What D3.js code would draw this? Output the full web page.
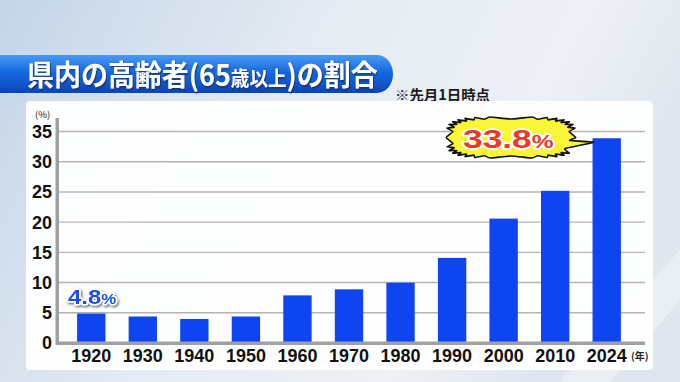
<!DOCTYPE html>
<html><head><meta charset="utf-8">
<script src="https://cdn.jsdelivr.net/npm/d3@7"></script>
<style>html,body{margin:0;padding:0;overflow:hidden;background:#dfe7ef}</style>
</head><body>
<svg id="c" width="680" height="382"></svg>
<script>
const years = ["1920","1930","1940","1950","1960","1970","1980","1990","2000","2010","2024"];
const values = [4.8, 4.3, 3.9, 4.3, 7.8, 8.8, 9.9, 14.0, 20.5, 25.1, 33.8];
const yTicks = [0, 5, 10, 15, 20, 25, 30, 35];
const titleText = ["県内の高齢者(65", "歳以上", ")の割合"];
const noteText = "※先月1日時点";
const firstLabel = "4.8";
const lastLabel = "33.8";

const svg = d3.select("#c");
const defs = svg.append("defs");
const bg = defs.append("linearGradient").attr("id","bg").attr("x1","0").attr("y1","0").attr("x2","1").attr("y2","0.3");
bg.append("stop").attr("offset","0").attr("stop-color","#c4d5e8");
bg.append("stop").attr("offset","0.45").attr("stop-color","#e4ebf2");
bg.append("stop").attr("offset","0.8").attr("stop-color","#edf1f5");
bg.append("stop").attr("offset","1").attr("stop-color","#dfe6ee");
const tb = defs.append("linearGradient").attr("id","tb").attr("x1","0").attr("y1","0").attr("x2","0").attr("y2","1");
tb.append("stop").attr("offset","0").attr("stop-color","#4a9af2");
tb.append("stop").attr("offset","0.45").attr("stop-color","#1668e0");
tb.append("stop").attr("offset","1").attr("stop-color","#0a45b8");
const sh = defs.append("filter").attr("id","sh").attr("x","-10%").attr("y","-20%").attr("width","130%").attr("height","150%");
sh.append("feDropShadow").attr("dx",1).attr("dy",1.5).attr("stdDeviation",0.8).attr("flood-color","#1a2030").attr("flood-opacity",0.7);

svg.append("rect").attr("width",680).attr("height",382).attr("fill","url(#bg)");
svg.append("path").attr("d","M560,382 L680,250 L680,300 L610,382 Z").attr("fill","#ffffff").attr("opacity",0.35);

// title banner
svg.append("path").attr("d","M0,55 H377 A16,19 0 0 1 393,74 A16,19 0 0 1 377,93 H0 Z").attr("fill","url(#tb)");
const tt = svg.append("text").attr("transform","translate(27,85.5) scale(0.93,1)").attr("fill","#fff")
  .attr("font-family","'Noto Sans CJK JP'").attr("font-weight",700).attr("font-size",29)
  .attr("filter","url(#sh)");
tt.append("tspan").text(titleText[0]);
tt.append("tspan").attr("font-size",20).text(titleText[1]);
tt.append("tspan").text(titleText[2]);
svg.append("text").attr("x",395).attr("y",100).attr("fill","#1a1a1a")
  .attr("font-family","'Noto Sans CJK JP'").attr("font-weight",700).attr("font-size",14)
  .attr("textLength",95).attr("lengthAdjust","spacingAndGlyphs").text(noteText);

// panel
svg.append("rect").attr("x",26).attr("y",101).attr("width",627).attr("height",269).attr("rx",4)
  .attr("fill","#ffffff").attr("opacity",0.93);

const x = d3.scaleBand().domain(years).range([57, 641]).paddingInner(0.45).paddingOuter(0.39);
const y = d3.scaleLinear().domain([0, 35]).range([342.5, 131]);

const grid = svg.append("g").attr("transform","translate(58,0)")
  .call(d3.axisRight(y).tickValues(yTicks.filter(d=>d>0)).tickSize(587).tickFormat(""));
grid.select(".domain").remove();
grid.selectAll("line").attr("stroke","#b4b4b4").attr("stroke-width",1.4);

svg.append("g").selectAll("rect").data(values).join("rect")
  .attr("x",(d,i)=>x(years[i])).attr("width",x.bandwidth())
  .attr("y",d=>y(d)).attr("height",d=>y(0)-y(d)).attr("fill","#0f44f2");

svg.append("rect").attr("x",57).attr("y",341.5).attr("width",588).attr("height",3.5).attr("fill","#a0a0a0");
svg.append("rect").attr("x",55.5).attr("y",118).attr("width",3.5).attr("height",227).attr("fill","#a0a0a0");

const ya = svg.append("g").attr("transform","translate(55,0)")
  .call(d3.axisLeft(y).tickValues(yTicks).tickSize(0).tickPadding(3).tickFormat(d3.format("d")));
ya.select(".domain").remove();
ya.selectAll("text").attr("font-family","'Liberation Sans', Arial, sans-serif").attr("font-weight",700)
  .attr("font-size",18).attr("fill","#111").attr("dy","0.36em");

const xa = svg.append("g").attr("transform","translate(0,345)")
  .call(d3.axisBottom(x).tickSize(0).tickPadding(0));
xa.select(".domain").remove();
xa.selectAll("text").attr("font-family","'Liberation Sans', Arial, sans-serif").attr("font-weight",700)
  .attr("font-size",17.5).attr("fill","#111").attr("dy","0").attr("y",17)
  .attr("textLength",40).attr("lengthAdjust","spacingAndGlyphs");

svg.append("text").attr("x",35).attr("y",118).attr("font-family","'Noto Sans CJK JP'").attr("font-size",9.5)
  .attr("fill","#222").text("(%)");
svg.append("text").attr("x",631).attr("y",360).attr("font-family","'Noto Sans CJK JP'").attr("font-weight",700).attr("font-size",10)
  .attr("fill","#222").text("(年)");

const fl = svg.append("text").attr("transform","translate(68,304) scale(1.2,1)")
  .attr("font-family","'Liberation Sans', Arial, sans-serif").attr("font-weight",700).attr("font-size",20)
  .attr("fill","#1a50e6").attr("stroke","#ffffff").attr("stroke-width",3).attr("paint-order","stroke")
  .attr("stroke-linejoin","round").attr("filter","url(#sh)");
fl.append("tspan").text(firstLabel);
fl.append("tspan").attr("font-size",14).text("%");

// burst callout
const lastI = values.length - 1;
const tipX = x(years[lastI]) + 1, tipY = y(values[lastI]) + 4;
const cx = 511, cy = 137.5, rx = 60, ry = 19;
const N = 30;
const pts = [];
function sup(a, f) {
  const c = Math.cos(a), s = Math.sin(a), p = 0.5;
  return [cx + rx * f * Math.sign(c) * Math.pow(Math.abs(c), p), cy + ry * f * Math.sign(s) * Math.pow(Math.abs(s), p)];
}
for (let k = 0; k < 2 * N; k++) {
  const a = k * Math.PI / N;
  if (a > 0.05 && a < 0.55) { continue; }
  const f = k % 2 === 0 ? 1.08 : 0.97;
  pts.push(sup(a, f));
  if (k === 0) {
    pts.push([cx + rx * 0.98, cy + 3]);
    pts.push([tipX, tipY]);
    pts.push([cx + rx * 0.9, cy + 11]);
  }
}
svg.append("path").attr("d", d3.line().curve(d3.curveCardinalClosed.tension(0.6))(pts))
  .attr("fill","#fbf538").attr("stroke","#111").attr("stroke-width",1.6).attr("stroke-linejoin","round");
const lt = svg.append("text").attr("transform","translate(463,148) scale(1.36,1)")
  .attr("font-family","'Liberation Sans', Arial, sans-serif").attr("font-weight",700).attr("font-size",26)
  .attr("fill","#e8392c").attr("stroke","#ffffff").attr("stroke-width",3.5).attr("paint-order","stroke")
  .attr("stroke-linejoin","round");
lt.append("tspan").text(lastLabel);
lt.append("tspan").attr("font-size",18).text("%");
</script>
</body></html>
